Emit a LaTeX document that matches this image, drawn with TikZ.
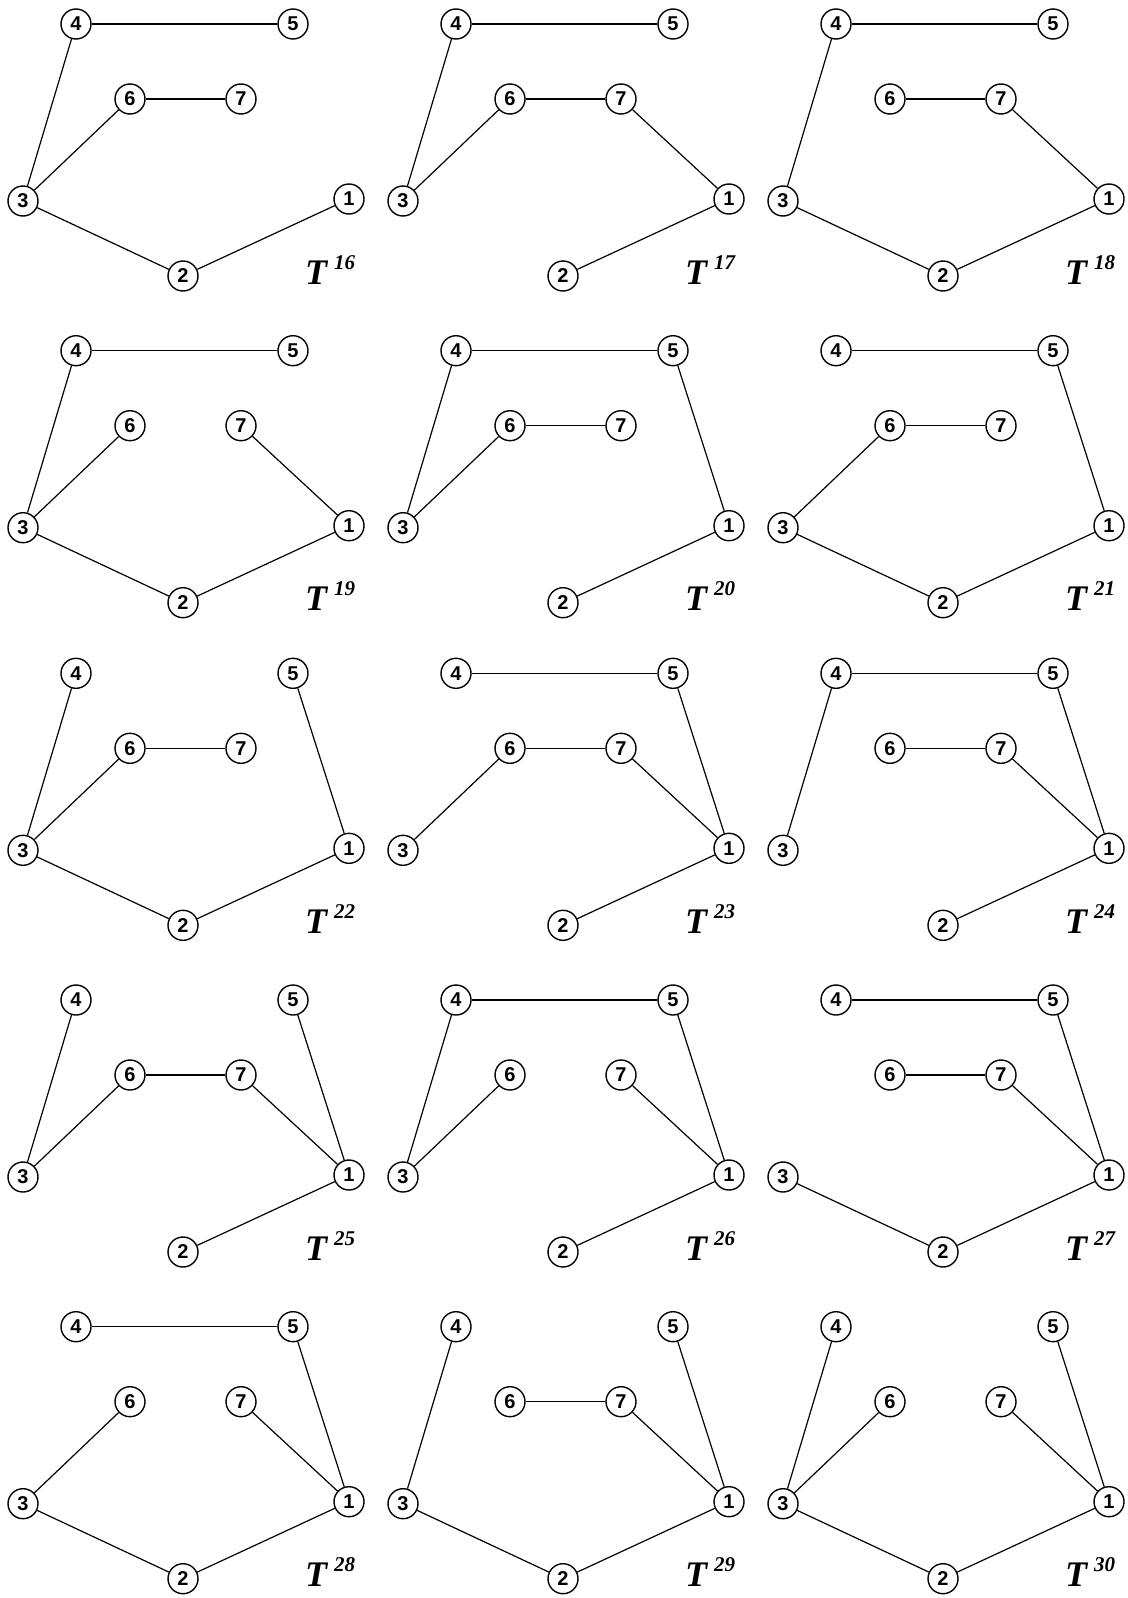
\documentclass[tikz,border=0pt]{standalone}
\usepackage{fontspec}
\setmainfont{Liberation Serif}
\setsansfont{Liberation Sans}
\tikzset{
  vtx/.style={circle,draw,line width=1.4pt,minimum size=30pt,inner sep=0pt,
    font=\sffamily\bfseries\fontsize{20}{20}\selectfont},
  edge/.style={line width=1.2pt},
  lbl/.style={anchor=base west,inner sep=0pt,font=\rmfamily\bfseries\itshape}
}
\newcommand\mypanel[5]{%
  \begin{scope}[shift={(#2,#3)}]
    \node[vtx] (#1-4) at (76,0) {4};
    \node[vtx] (#1-5) at (293,0) {5};
    \node[vtx] (#1-6) at (130,75) {6};
    \node[vtx] (#1-7) at (241,75) {7};
    \node[vtx] (#1-3) at (23,177) {3};
    \node[vtx] (#1-1) at (349,175) {1};
    \node[vtx] (#1-2) at (183,252) {2};
    \node[lbl] (#1-T) at (305,260) {\fontsize{36}{36}\selectfont T\kern7pt\raisebox{15pt}{\fontsize{21}{21}\selectfont #4}};
    \foreach \a/\b in {#5} \draw[edge] (#1-\a) -- (#1-\b);
  \end{scope}}
\begin{document}
\begin{tikzpicture}[x=1pt,y=-1pt]
\useasboundingbox (0,0) rectangle (1127,1598);
% row 1
\mypanel{p16}{0}{24}{16}{4/5,4/3,6/7,6/3,3/2,2/1}
\mypanel{p17}{380}{24}{17}{4/5,4/3,6/7,6/3,7/1,1/2}
\mypanel{p18}{760}{24}{18}{4/5,4/3,6/7,7/1,3/2,2/1}
% row 2
\mypanel{p19}{0}{350.7}{19}{4/5,4/3,3/6,7/1,3/2,2/1}
\mypanel{p20}{380}{350.7}{20}{4/5,4/3,6/7,6/3,5/1,1/2}
\mypanel{p21}{760}{350.7}{21}{4/5,6/7,6/3,5/1,3/2,2/1}
% row 3
\mypanel{p22}{0}{673.3}{22}{4/3,6/7,6/3,5/1,3/2,2/1}
\mypanel{p23}{380}{673.3}{23}{4/5,6/7,6/3,7/1,5/1,1/2}
\mypanel{p24}{760}{673.3}{24}{4/5,4/3,6/7,7/1,5/1,1/2}
% row 4
\mypanel{p25}{0}{1000}{25}{4/3,6/7,6/3,7/1,5/1,1/2}
\mypanel{p26}{380}{1000}{26}{4/5,4/3,6/3,7/1,5/1,1/2}
\mypanel{p27}{760}{1000}{27}{4/5,6/7,7/1,5/1,3/2,2/1}
% row 5
\mypanel{p28}{0}{1326.7}{28}{4/5,6/3,7/1,5/1,3/2,2/1}
\mypanel{p29}{380}{1326.7}{29}{4/3,6/7,7/1,5/1,3/2,2/1}
\mypanel{p30}{760}{1326.7}{30}{4/3,6/3,7/1,5/1,3/2,2/1}
\end{tikzpicture}
\end{document}
